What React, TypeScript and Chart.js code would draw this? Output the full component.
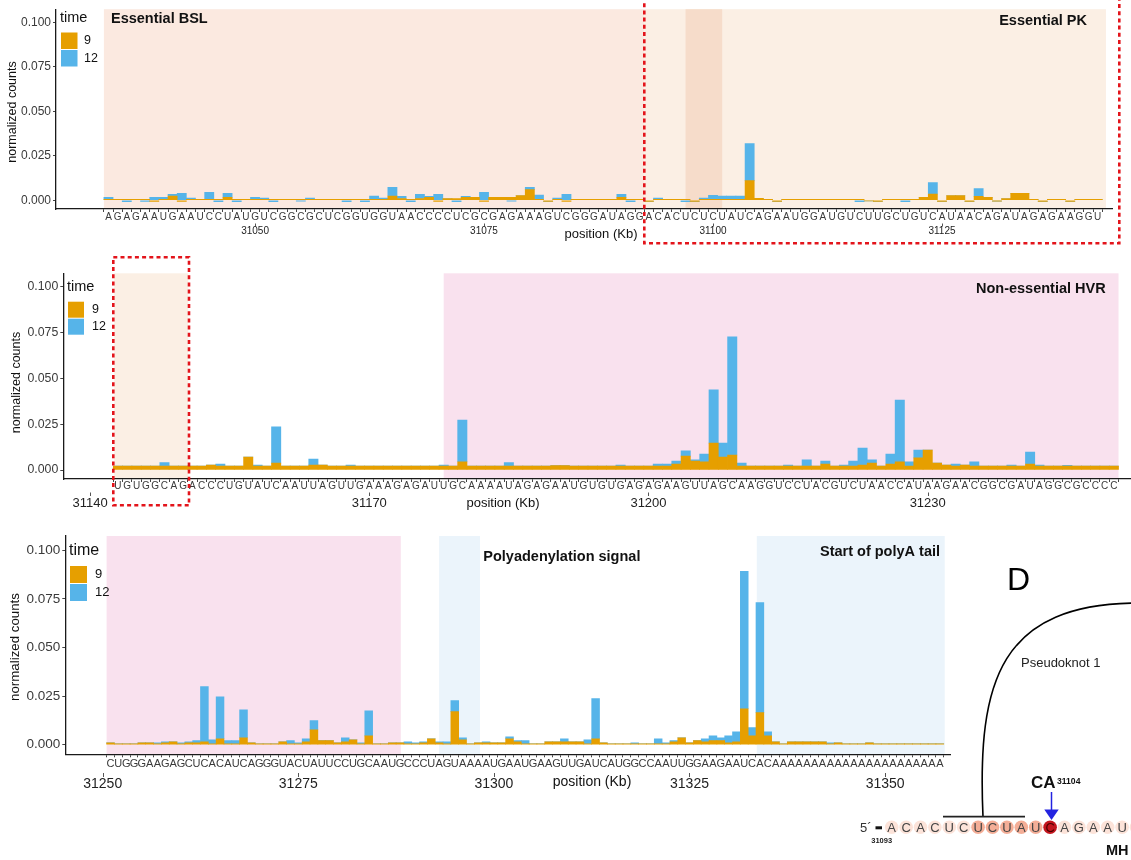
import React, { useEffect, useRef } from "react";
import { Chart, registerables } from "chart.js";

Chart.register(...registerables);

const FONT = '"Liberation Sans", Arial, Helvetica, sans-serif';
const COLOR_9 = "#E69F00";
const COLOR_12 = "#56B4E9";
const TEXT_DARK = "#111111";
const TEXT_AXIS = "#3a3a3a";
const WIDTH = 1131;

const Y_TICKS = [0, 0.025, 0.05, 0.075, 0.1];
const Y_MIN = -0.0049;
const Y_MAX = 0.1073;

// ---------- segment 1: 31034 – 31142 ----------
const start1 = 31034;
const seq1 =
  "AGAGAAUGAAUCCUAUGUCGGCGCUCGGUG" +
  "GUAACCCCUCGCGAGAAAGUCGGGAUAGGACACUCUCUAUC" +
  "AGAAUGGAUGUCUUGCUGUCAUAACAGAUAGAGAAGGU";
const ticks1 = [31050, 31075, 31100, 31125];
const time9_s1 = [
  0.0005, 0.0005, 0.0005, 0.0005, 0.0005, -0.0006, 0.0005, 0.0024, -0.0006, 0.0005,
  0.0005, 0.0005, 0.0005, 0.0016, 0.0005, 0.0005, 0.0005, 0.0005, 0.0005, 0.0005,
  0.0005, 0.0005, 0.0005, 0.0005, 0.0005, 0.0005, 0.0005, 0.0005, 0.0005, 0.0005,
  0.0005, 0.0024, 0.001, 0.0005, 0.001, 0.0016, -0.0006, 0.001, 0.001, 0.0016,
  0.0016, -0.0006, 0.0016, 0.0016, 0.0016, 0.0027, 0.006, 0.0005, -0.0006, 0.0005,
  -0.0006, 0.0005, 0.0005, 0.0005, 0.0005, 0.0005, 0.0016, 0.0005, 0.0005, -0.0006,
  0.0005, 0.0005, 0.0005, 0.0005, -0.0006, 0.0005, 0.0005, 0.0005, 0.0005, 0.0005,
  0.011, 0.0011, 0.0005, -0.0006, 0.0005, 0.0005, 0.0005, 0.0005, 0.0005, 0.0005,
  0.0005, 0.0005, 0.0005, -0.0004, -0.0006, 0.0005, 0.0005, 0.0005, 0.0005, 0.0016,
  0.0035, -0.0006, 0.0027, 0.0027, -0.0006, 0.0022, 0.0016, -0.0005, 0.001, 0.0039,
  0.0039, 0.0005, -0.0006, 0.0005, 0.0005, -0.0006, 0.0005, 0.0005, 0.0005,
];
const time12_s1 = [
  0.0012, 0, -0.0008, 0, -0.0006, 0.0016, 0.0012, 0.0009, 0.0039, 0.0007,
  0, 0.004, -0.0008, 0.0023, -0.0008, 0, 0.0012, 0.0007, -0.0008, 0,
  0, -0.0005, 0.0007, 0, 0, 0, -0.0008, 0, -0.0008, 0.0018,
  0.0007, 0.0048, 0.0012, -0.0008, 0.0023, 0.0006, 0.0033, 0, -0.0008, 0.0006,
  0, 0.0044, 0, 0, -0.0005, 0, 0.0012, 0.0024, 0, 0.0007,
  0.0033, 0, 0, 0, 0, 0, 0.0017, -0.0008, 0, 0,
  0.0007, 0, 0, -0.0008, 0, 0.0007, 0.0023, 0.0018, 0.0018, 0.0018,
  0.0209, 0, 0, 0, 0, 0, 0, 0, 0, 0,
  0, 0, -0.0008, 0, 0, 0, 0, -0.0008, 0, 0,
  0.0064, 0, 0, 0, 0, 0.0044, 0, 0, 0, 0,
  0, 0, 0, 0, 0, 0, 0, 0, 0,
];

// ---------- segment 2: 31143 – 31250 ----------
const start2 = 31143;
const seq2 =
  "UGUGGCAGACCCUGUAUCAAUUAGUUGAA" +
  "AGAGAUUGCAAAAUAGAGAAUGUGUGAGAGAAGUUAGC" +
  "AAGGUCCUACGUCUAACCAUAAGAACGGCGAUAGGCGCCCC";
const ticks2 = [31140, 31170, 31200, 31230];
const time9_s2 = [
  0.0021, 0.0021, 0.0021, 0.0021, 0.0021, 0.0022, 0.0021, 0.0021, 0.0021, 0.0021,
  0.0027, 0.0022, 0.0021, 0.0021, 0.0071, 0.0022, 0.0022, 0.0038, 0.0021, 0.0021,
  0.0021, 0.0027, 0.0027, 0.0022, 0.0022, 0.0021, 0.0022, 0.0021, 0.0021, 0.0021,
  0.0021, 0.0021, 0.0021, 0.0021, 0.0021, 0.0021, 0.0021, 0.0045, 0.0022, 0.0021,
  0.0021, 0.0021, 0.0022, 0.0021, 0.0021, 0.0021, 0.0021, 0.0024, 0.0024, 0.0021,
  0.0021, 0.0021, 0.0021, 0.0021, 0.0021, 0.0021, 0.0021, 0.0021, 0.0021, 0.0022,
  0.0033, 0.0076, 0.0049, 0.0044, 0.0147, 0.0071, 0.0082, 0.0021, 0.0021, 0.0021,
  0.0021, 0.0021, 0.0021, 0.0021, 0.0021, 0.0021, 0.0033, 0.0021, 0.0021, 0.0021,
  0.0027, 0.0038, 0.0021, 0.0033, 0.0044, 0.0021, 0.0066, 0.0109, 0.0038, 0.0027,
  0.0021, 0.0027, 0.0021, 0.0021, 0.0021, 0.0021, 0.0021, 0.0021, 0.0033, 0.0021,
  0.0021, 0.0021, 0.0021, 0.0021, 0.0021, 0.0021, 0.0021, 0.0021,
];
const time12_s2 = [
  0, 0, 0, 0, 0, 0.0018, 0, 0, 0, 0,
  0, 0.0011, 0, 0, 0, 0.0005, 0, 0.0197, 0, 0,
  0, 0.0033, 0, 0, 0, 0.0006, 0, 0, 0, 0,
  0, 0, 0, 0, 0, 0.0006, 0, 0.0228, 0, 0,
  0, 0, 0.0018, 0, 0, 0, 0, 0, 0, 0,
  0, 0, 0, 0, 0.0006, 0, 0, 0, 0.0012, 0.0011,
  0.0016, 0.0028, 0.0006, 0.0043, 0.029, 0.0076, 0.0644, 0.0017, 0, 0,
  0, 0, 0.0006, 0, 0.0034, 0, 0.0016, 0, 0.0006, 0.0028,
  0.0093, 0.0017, 0, 0.0054, 0.0338, 0.0023, 0.0043, 0, 0, 0,
  0.0012, 0, 0.0023, 0, 0, 0, 0.0006, 0, 0.0065, 0.0006,
  0, 0, 0.0004, 0, 0, 0, 0, 0,
];

// ---------- segment 3: 31251 – 31357 ----------
const start3 = 31251;
const seq3 =
  "CUGGGAAGAGCUCACAUCAGGGUACUAUUCCUGCA" +
  "AUGCCCUAGUAAAAUGAAUGAAGUUGAUCAUGGCCAAUUGGAAGAAUCAC" +
  "AAAAAAAAAAAAAAAAAAAAAA";
const ticks3 = [31250, 31275, 31300, 31325, 31350];
const time9_s3 = [
  0.001, 0.0005, 0.0005, 0.0005, 0.001, 0.001, 0.0005, 0.001, 0.0015, 0.0005,
  0.001, 0.001, 0.0015, 0.0005, 0.0031, 0.0005, 0.0005, 0.0036, 0.001, 0.0005,
  0.0005, 0.0005, 0.0015, 0.0005, 0.0005, 0.0015, 0.0077, 0.0021, 0.0021, 0.001,
  0.0015, 0.0026, 0.0005, 0.0046, 0.0005, 0.0005, 0.001, 0.001, 0.0005, 0.0005,
  0.001, 0.0031, 0.001, 0.0005, 0.017, 0.0026, 0.0005, 0.001, 0.001, 0.001,
  0.001, 0.0031, 0.0015, 0.0005, 0.0005, 0.0005, 0.0015, 0.0015, 0.0015, 0.0015,
  0.0015, 0.0005, 0.0031, 0.001, 0.0005, 0.0005, 0.0005, 0.0005, 0.0005, 0.0005,
  0.0005, 0.0005, 0.0015, 0.0036, 0.001, 0.0021, 0.0015, 0.0021, 0.0021, 0.001,
  0.0015, 0.0185, 0.0046, 0.0165, 0.0046, 0.0015, 0.0005, 0.0015, 0.0015, 0.0015,
  0.0015, 0.0015, 0.0005, 0.001, 0.0005, 0.0005, 0.0005, 0.001, 0.0005, 0.0005,
  0.0005, 0.0005, 0.0005, 0.0005, 0.0005, 0.0005, 0.0005,
];
const time12_s3 = [
  0, 0, 0, 0, 0, 0, 0.0005, 0.0005, 0, 0.0005,
  0.0005, 0.0011, 0.0284, 0.0021, 0.0216, 0.0016, 0.0016, 0.0144, 0, 0,
  0, 0, 0, 0.0016, 0.0005, 0.0016, 0.0047, 0, 0, 0,
  0.0021, 0, 0.0005, 0.0129, 0, 0, 0, 0, 0.001, 0.0005,
  0.0005, 0, 0.0005, 0.001, 0.0057, 0.001, 0, 0, 0.0005, 0,
  0, 0.001, 0.0006, 0.0016, 0, 0, 0, 0, 0.0016, 0,
  0, 0.0021, 0.0206, 0, 0, 0, 0, 0.0005, 0, 0,
  0.0026, 0.0005, 0.0006, 0, 0, 0, 0.0016, 0.0025, 0.0015, 0.0036,
  0.0052, 0.0706, 0.0042, 0.0566, 0.0021, 0, 0, 0, 0, 0,
  0, 0, 0.0005, 0, 0, 0, 0, 0, 0, 0,
  0, 0, 0, 0, 0, 0, 0,
];

// ---------- pseudoknot sketch ----------
const pkSeq = "ACACUCUCUAUCAGAAUG";
const pkLevel = [0, 0, 0, 0, 0, 0, 1, 1, 1, 1, 1, 2, 0, 0, 0, 0, 0, 0];
const pkFill = ["#FCE3D9", "#F4AE97", "#C3161E"];

interface Shade { from: number; to: number; color: string }
interface Label { text: string; x: number; y: number; align: CanvasTextAlign }
interface PanelSpec {
  top: number; height: number;
  left: number; right: number; areaTop: number; areaBottom: number;
  xMin: number; xMax: number;
  start: number; seq: string; t9: number[]; t12: number[];
  numTicks: number[];
  letterSize: number; letterY: number;
  numSize: number; numY: number; numTickY: [number, number];
  yTickSize: number;
  yTitle: { x: number; y: number; size: number };
  xTitle: { x: number; y: number; size: number };
  legend: { tx: number; ty: number; bx: number; by: number; bw: number; bh: number; lx: number; ts: number; ls: number };
  shades: Shade[];
  labels: Label[];
}

const BSL = "#FBE9E0";
const PK = "#FBEFE4";
const PK_CORE = "#F6DCCA";
const HVR = "#F9E1EE";
const POLYA = "#EBF4FB";

const panels: PanelSpec[] = [
  {
    top: 0, height: 245, left: 56, right: 1112, areaTop: 5, areaBottom: 209,
    xMin: 31028.27, xMax: 31143.56,
    start: start1, seq: seq1, t9: time9_s1, t12: time12_s1, numTicks: ticks1,
    letterSize: 10, letterY: 217.7, numSize: 10, numY: 231.5, numTickY: [223.5, 226.5],
    yTickSize: 12,
    yTitle: { x: 13, y: 112, size: 12.5 },
    xTitle: { x: 601, y: 234, size: 13 },
    legend: { tx: 60, ty: 18, bx: 61, by: 32.5, bw: 16.5, bh: 16.5, lx: 84, ts: 14.5, ls: 12.5 },
    shades: [
      { from: 31033.5, to: 31092.5, color: BSL },
      { from: 31092.5, to: 31142.9, color: PK },
      { from: 31097, to: 31101, color: PK_CORE },
    ],
    labels: [
      { text: "Essential BSL", x: 111, y: 19, align: "left" },
      { text: "Essential PK", x: 1087, y: 21, align: "right" },
    ],
  },
  {
    top: 250, height: 265, left: 63.3, right: 1131, areaTop: 23.3, areaBottom: 229,
    xMin: 31137.13, xMax: 31251.84,
    start: start2, seq: seq2, t9: time9_s2, t12: time12_s2, numTicks: ticks2,
    letterSize: 10, letterY: 236.3, numSize: 13, numY: 253.5, numTickY: [242.5, 246],
    yTickSize: 12.3,
    yTitle: { x: 17, y: 132.5, size: 12.5 },
    xTitle: { x: 503, y: 253, size: 13 },
    legend: { tx: 67, ty: 36.7, bx: 68, by: 51.7, bw: 16, bh: 16, lx: 92, ts: 14.5, ls: 12.5 },
    shades: [
      { from: 31142.6, to: 31150.55, color: PK },
      { from: 31178, to: 31250.5, color: HVR },
    ],
    labels: [{ text: "Non-essential HVR", x: 1105.7, y: 39, align: "right" }],
  },
  {
    top: 525, height: 275, left: 65.3, right: 950.5, areaTop: 11, areaBottom: 229.3,
    xMin: 31245.22, xMax: 31358.36,
    start: start3, seq: seq3, t9: time9_s3, t12: time12_s3, numTicks: ticks3,
    letterSize: 11, letterY: 238.5, numSize: 14, numY: 259.5, numTickY: [248, 252],
    yTickSize: 13.5,
    yTitle: { x: 15, y: 122, size: 13.3 },
    xTitle: { x: 592, y: 256.7, size: 14 },
    legend: { tx: 69, ty: 25.7, bx: 70, by: 41, bw: 17, bh: 17, lx: 95, ts: 16, ls: 13 },
    shades: [
      { from: 31250.5, to: 31288.1, color: HVR },
      { from: 31293, to: 31298.22, color: POLYA },
      { from: 31333.6, to: 31357.62, color: POLYA },
    ],
    labels: [
      { text: "Polyadenylation signal", x: 483.3, y: 32.3, align: "left" },
      { text: "Start of polyA tail", x: 940, y: 26.7, align: "right" },
    ],
  },
];

function font(size: number, weight = "normal") {
  return `${weight} ${size}px ${FONT}`;
}

function makeDecor(spec: PanelSpec) {
  return {
    id: "decor",
    beforeDraw(chart: any) {
      const { ctx, chartArea } = chart;
      const xs = chart.scales.x;
      ctx.save();
      for (const s of spec.shades) {
        const x0 = Math.max(chartArea.left, xs.getPixelForValue(s.from));
        const x1 = Math.min(chartArea.right, xs.getPixelForValue(s.to));
        ctx.fillStyle = s.color;
        ctx.fillRect(x0, chartArea.top, x1 - x0, chartArea.bottom - chartArea.top);
      }
      ctx.restore();
    },
    afterDraw(chart: any) {
      const { ctx } = chart;
      const xs = chart.scales.x;
      ctx.save();

      // nucleotide letters under every position
      ctx.font = font(spec.letterSize);
      ctx.fillStyle = TEXT_AXIS;
      ctx.textAlign = "center";
      ctx.textBaseline = "middle";
      spec.seq.split("").forEach((ch, i) => {
        ctx.fillText(ch, xs.getPixelForValue(spec.start + i), spec.letterY);
      });

      // genome coordinate labels
      ctx.font = font(spec.numSize);
      ctx.strokeStyle = "#555";
      ctx.lineWidth = 1;
      for (const v of spec.numTicks) {
        const px = Math.round(xs.getPixelForValue(v)) + 0.5;
        ctx.beginPath();
        ctx.moveTo(px, spec.numTickY[0]);
        ctx.lineTo(px, spec.numTickY[1]);
        ctx.stroke();
        ctx.fillStyle = "#222";
        ctx.fillText(String(v), xs.getPixelForValue(v), spec.numY);
      }

      // axis titles
      ctx.fillStyle = TEXT_DARK;
      ctx.font = font(spec.xTitle.size);
      ctx.fillText("position (Kb)", spec.xTitle.x, spec.xTitle.y);
      ctx.save();
      ctx.translate(spec.yTitle.x, spec.yTitle.y);
      ctx.rotate(-Math.PI / 2);
      ctx.font = font(spec.yTitle.size);
      ctx.fillText("normalized counts", 0, 0);
      ctx.restore();

      // region labels
      ctx.font = font(14.5, "bold");
      for (const l of spec.labels) {
        ctx.textAlign = l.align;
        ctx.fillText(l.text, l.x, l.y);
      }

      // legend
      const lg = spec.legend;
      ctx.textAlign = "left";
      ctx.font = font(lg.ts);
      ctx.fillText("time", lg.tx, lg.ty);
      ctx.fillStyle = COLOR_9;
      ctx.fillRect(lg.bx, lg.by, lg.bw, lg.bh);
      ctx.fillStyle = COLOR_12;
      ctx.fillRect(lg.bx, lg.by + lg.bh + 1, lg.bw, lg.bh);
      ctx.fillStyle = TEXT_DARK;
      ctx.font = font(lg.ls);
      ctx.fillText("9", lg.lx, lg.by + lg.bh / 2);
      ctx.fillText("12", lg.lx, lg.by + lg.bh * 1.5 + 1);

      ctx.restore();
    },
  };
}

function Panel({ spec }: { spec: PanelSpec }) {
  const ref = useRef<HTMLCanvasElement | null>(null);
  useEffect(() => {
    if (!ref.current) return;
    const toPoints = (vals: number[]) => vals.map((v, i) => ({ x: spec.start + i, y: v }));
    const barStyle = { barPercentage: 1, categoryPercentage: 1, borderWidth: 0 };
    const chart = new Chart(ref.current, {
      type: "bar",
      data: {
        datasets: [
          { label: "9", data: toPoints(spec.t9), backgroundColor: COLOR_9, ...barStyle },
          { label: "12", data: toPoints(spec.t12), backgroundColor: COLOR_12, ...barStyle },
        ],
      },
      options: {
        animation: false,
        responsive: false,
        devicePixelRatio: 1,
        events: [],
        layout: {
          autoPadding: false,
          padding: { left: 0, right: WIDTH - spec.right, top: spec.areaTop, bottom: 0 },
        },
        plugins: { legend: { display: false }, tooltip: { enabled: false } },
        scales: {
          x: {
            type: "linear",
            min: spec.xMin,
            max: spec.xMax,
            stacked: true,
            offset: false,
            afterBuildTicks: (s: any) => {
              s.ticks = spec.seq.split("").map((_, i) => ({ value: spec.start + i }));
            },
            afterFit: (s: any) => {
              s.height = spec.height - spec.areaBottom;
            },
            ticks: { display: false },
            grid: { display: true, drawOnChartArea: false, drawTicks: true, tickLength: 3, color: "#444", lineWidth: 1 },
            border: { display: true, color: "#1a1a1a", width: 1.3 },
          },
          y: {
            type: "linear",
            min: Y_MIN,
            max: Y_MAX,
            stacked: true,
            afterBuildTicks: (s: any) => {
              s.ticks = Y_TICKS.map((v) => ({ value: v }));
            },
            afterFit: (s: any) => {
              s.width = spec.left;
            },
            ticks: {
              callback: (v: any) => Number(v).toFixed(3),
              font: { family: FONT, size: spec.yTickSize },
              color: TEXT_AXIS,
              padding: 2,
            },
            grid: { display: true, drawOnChartArea: false, drawTicks: true, tickLength: 3, color: "#444", lineWidth: 1 },
            border: { display: true, color: "#1a1a1a", width: 1.3 },
          },
        },
      } as any,
      plugins: [makeDecor(spec)],
    });
    return () => chart.destroy();
  }, [spec]);
  return (
    <canvas
      ref={ref}
      width={WIDTH}
      height={spec.height}
      style={{ position: "absolute", left: 0, top: spec.top, width: WIDTH, height: spec.height }}
    />
  );
}

function Overlay() {
  const red = "#E3141B";
  const x0 = 891.7;
  const step = 14.4;
  return (
    <svg
      width={WIDTH}
      height={860}
      style={{ position: "absolute", left: 0, top: 0, pointerEvents: "none", fontFamily: FONT }}
    >
      {/* highlighted windows */}
      <path d="M 644.3 -4 V 243.3 H 1119.3 V -4" fill="none" stroke={red} strokeWidth={2.6} strokeDasharray="4 3.2" />
      <rect x={113.3} y={257.3} width={75.7} height={248} fill="none" stroke={red} strokeWidth={2.6} strokeDasharray="4 3.2" />

      {/* pseudoknot sketch */}
      <text x={1007} y={590} fontSize={32} fill="#000">D</text>
      <path d="M 983 817 C 977 680, 1000 603, 1140 603" fill="none" stroke="#000" strokeWidth={1.6} />
      <line x1={943} y1={816.7} x2={1025} y2={816.7} stroke="#222" strokeWidth={1.8} />
      <text x={1021} y={667} fontSize={13} fill="#222">Pseudoknot 1</text>
      <text x={1031} y={788.3} fontSize={17} fontWeight="bold" fill="#111">CA</text>
      <text x={1057} y={784.3} fontSize={8.6} fontWeight="bold" fill="#111">31104</text>
      <line x1={1051.5} y1={792} x2={1051.5} y2={812} stroke="#2323E0" strokeWidth={1.5} />
      <polygon points="1044.3,809.5 1058.7,809.5 1051.5,820" fill="#2323E0" />

      <text x={860} y={831.7} fontSize={13} fill="#333">{"5\u00B4"}</text>
      <rect x={875.5} y={826.3} width={6.5} height={3} fill="#111" />
      <text x={881.7} y={843.3} fontSize={7.5} fontWeight="bold" textAnchor="middle" fill="#222">31093</text>
      {pkSeq.split("").map((ch, i) => (
        <circle key={"c" + i} cx={x0 + i * step} cy={827.3} r={6.8} fill={pkFill[pkLevel[i]]} />
      ))}
      {pkSeq.split("").map((ch, i) => (
        <text
          key={"t" + i}
          x={x0 + i * step}
          y={832}
          fontSize={13}
          textAnchor="middle"
          fill={pkLevel[i] === 2 ? "#4a0000" : "#444"}
        >
          {ch}
        </text>
      ))}
      <text x={1106} y={855} fontSize={14.5} fontWeight="bold" fill="#111">MH</text>
    </svg>
  );
}

export default function App() {
  return (
    <div
      style={{
        position: "absolute",
        left: 0,
        top: 0,
        width: WIDTH,
        height: 860,
        background: "#fff",
        overflow: "hidden",
      }}
    >
      {panels.map((p, i) => (
        <Panel key={i} spec={p} />
      ))}
      <Overlay />
    </div>
  );
}
